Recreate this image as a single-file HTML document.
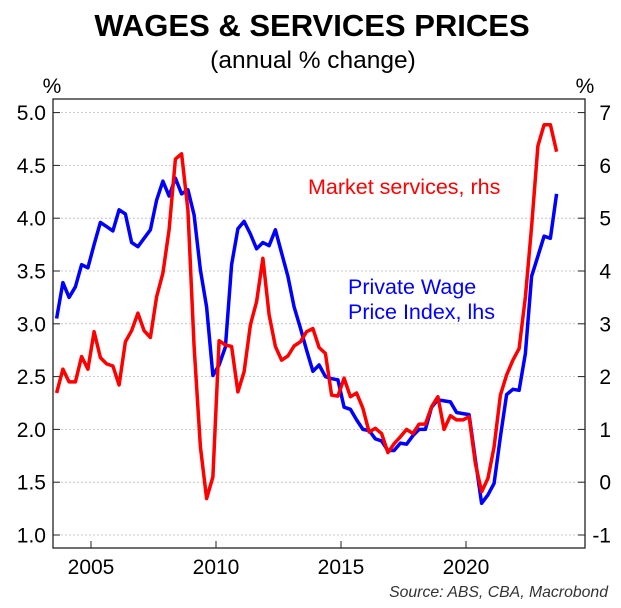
<!DOCTYPE html>
<html><head><meta charset="utf-8"><style>
body{margin:0;background:#fff;}
svg{display:block;font-family:"Liberation Sans",sans-serif;}
</style></head><body>
<svg id="chart" width="621" height="608" viewBox="0 0 621 608">
<text x="312" y="36" text-anchor="middle" font-size="31" font-weight="bold">WAGES &amp; SERVICES PRICES</text>
<text x="313" y="68" text-anchor="middle" font-size="24.5">(annual % change)</text>
<text x="52" y="93" text-anchor="middle" font-size="21">%</text>
<text x="585" y="93" text-anchor="middle" font-size="21">%</text>
<g id="grid"></g>
<g id="axes"></g>
<g id="series"></g>
<text x="308" y="194" font-size="21.5" fill="#ff0000">Market services, rhs</text>
<text x="348" y="294" font-size="21.5" fill="#0000ff">Private Wage</text>
<text x="348" y="319" font-size="21.5" fill="#0000ff">Price Index, lhs</text>
<text x="608" y="597" text-anchor="end" font-size="15.8" font-style="italic" fill="#333">Source: ABS, CBA, Macrobond</text>
<rect x="53" y="99" width="532" height="449" fill="none" stroke="#222" stroke-width="1.3"/>
</svg>
<script>
const startYear = 2003.625;
const wpi = [3.05,3.39,3.25,3.35,3.56,3.53,3.75,3.96,3.92,3.88,4.08,4.04,3.77,3.73,3.81,3.89,4.17,4.35,4.21,4.38,4.23,4.27,4.03,3.51,3.16,2.51,2.61,2.78,3.56,3.90,3.97,3.85,3.71,3.77,3.74,3.89,3.67,3.45,3.16,2.96,2.75,2.55,2.61,2.50,2.48,2.47,2.21,2.19,2.09,2.00,1.99,1.91,1.89,1.80,1.80,1.87,1.86,1.94,2.00,2.00,2.21,2.28,2.27,2.26,2.16,2.15,2.14,1.71,1.30,1.38,1.49,1.93,2.33,2.38,2.37,2.72,3.45,3.64,3.83,3.81,4.23];
const services = [1.69,2.14,1.90,1.90,2.38,2.14,2.85,2.36,2.24,2.20,1.84,2.66,2.87,3.20,2.87,2.74,3.51,3.96,4.78,6.12,6.22,5.16,2.57,0.67,-0.31,0.10,2.68,2.60,2.57,1.71,2.09,2.98,3.42,4.24,3.17,2.57,2.31,2.39,2.58,2.66,2.85,2.91,2.55,2.44,1.65,1.63,1.97,1.62,1.69,1.40,0.95,1.02,0.92,0.56,0.73,0.86,1.00,0.92,1.10,1.10,1.43,1.62,1.00,1.26,1.18,1.18,1.24,0.35,-0.18,0.07,0.67,1.65,2.03,2.31,2.53,3.51,4.84,6.37,6.77,6.77,6.26];
const leftTicks = [1.0,1.5,2.0,2.5,3.0,3.5,4.0,4.5,5.0];
const rightTicks = [-1,0,1,2,3,4,5,6,7];
const xTicks = [2005,2010,2015,2020];

const NS='http://www.w3.org/2000/svg';
function xS(yr){return 91+(yr-2005)*25.0;}
function yL(v){return 535-(v-1)*105.6;}
function yR(v){return 535-(v+1)*52.8;}
function mk(tag,attrs,parent){const e=document.createElementNS(NS,tag);for(const k in attrs)e.setAttribute(k,attrs[k]);document.getElementById(parent).appendChild(e);return e;}

leftTicks.forEach((t,i)=>{
  const y=yL(t);
  const g=mk('line',{x1:53,x2:585,y1:y,y2:y,stroke:'#bbb','stroke-width':0.8,'stroke-dasharray':'2,2'},'grid');
  
  
  const tk=mk('line',{x1:53,x2:60,y1:y,y2:y,stroke:'#222','stroke-width':1},'axes');
  
  
  const lb=mk('text',{x:46,y:y+7.5,'text-anchor':'end','font-size':21},'axes');
  lb.textContent=t.toFixed(1);
  
  
});
rightTicks.forEach(t=>{
  const y=yR(t);
  const tk=mk('line',{x1:578,x2:585,y1:y,y2:y,stroke:'#222','stroke-width':1},'axes');
  
  
  const lb=mk('text',{x:611,y:y+7.5,'text-anchor':'end','font-size':21},'axes');
  lb.textContent=String(t);
  
  
});
xTicks.forEach(t=>{
  const x=xS(t);
  const tk=mk('line',{x1:x,x2:x,y1:541,y2:548,stroke:'#222','stroke-width':1},'axes');
  
  
  const lb=mk('text',{x:x,y:574,'text-anchor':'middle','font-size':21},'axes');
  lb.textContent=String(t);
  
  
});
function pts(arr,yf){return arr.map((v,i)=>xS(startYear+0.25*i).toFixed(1)+','+yf(v).toFixed(1)).join(' ');}
const b=mk('polyline',{points:pts(wpi,yL),fill:'none',stroke:'#0000ff','stroke-width':3.5,'stroke-linejoin':'round'},'series');


const r=mk('polyline',{points:pts(services,yR),fill:'none',stroke:'#ff0000','stroke-width':3.5,'stroke-linejoin':'round'},'series');


</script>
</body></html>
